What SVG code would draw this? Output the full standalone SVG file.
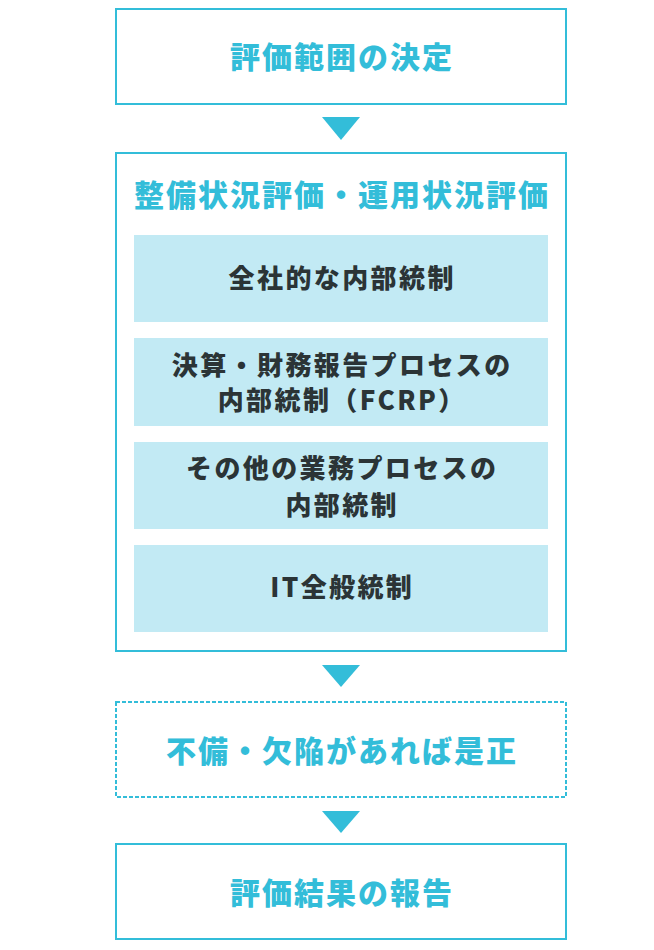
<svg xmlns="http://www.w3.org/2000/svg" width="654" height="950" viewBox="0 0 654 950">
<style>
.frame{fill:#ffffff;stroke:#33bdd9;stroke-width:2}
.dash{fill:#ffffff;stroke:#33bdd9;stroke-width:2;stroke-dasharray:4 2}
.inner{fill:#c2eaf4}
.ttl{font-family:"Noto Sans CJK JP","Noto Sans",sans-serif;font-weight:900;font-size:30px;fill:#33bdd9;letter-spacing:2px;text-anchor:middle}
.sub{font-family:"Noto Sans CJK JP","Noto Sans",sans-serif;font-weight:900;font-size:26px;fill:#2b3436;letter-spacing:2.4px;text-anchor:middle}
.arr{fill:#33bdd9}
</style>
<rect width="654" height="950" fill="#ffffff"/>
<g id="node-scope">
<rect class="frame" x="116" y="9" width="450" height="95"/>
<text class="ttl" x="342" y="68">評価範囲の決定</text>
</g>
<g id="node-eval">
<rect class="frame" x="116" y="153" width="450" height="498"/>
<text class="ttl" x="342" y="205.5">整備状況評価・運用状況評価</text>
</g>
<g id="node-company">
<rect class="inner" x="134" y="235" width="414" height="87"/>
<text class="sub" x="342.2" y="287.5">全社的な内部統制</text>
</g>
<g id="node-fcrp">
<rect class="inner" x="134" y="338" width="414" height="88"/>
<text class="sub" x="342.2" y="375">決算・財務報告プロセスの</text>
<text class="sub" x="342.2" y="410">内部統制（FCRP）</text>
</g>
<g id="node-other">
<rect class="inner" x="134" y="442" width="414" height="87"/>
<text class="sub" x="342.2" y="478">その他の業務プロセスの</text>
<text class="sub" x="342.2" y="514.5">内部統制</text>
</g>
<g id="node-it">
<rect class="inner" x="134" y="545" width="414" height="87"/>
<text class="sub" x="342.2" y="596.5">IT全般統制</text>
</g>
<g id="node-fix">
<rect class="dash" x="116" y="702" width="450" height="95"/>
<text class="ttl" x="342" y="761.5">不備・欠陥があれば是正</text>
</g>
<g id="node-report">
<rect class="frame" x="116" y="844" width="450" height="95"/>
<text class="ttl" x="342" y="904">評価結果の報告</text>
</g>
<g id="connectors">
<polygon class="arr" points="322,117 360,117 341,140"/>
<polygon class="arr" points="322,665 360,665 341,687"/>
<polygon class="arr" points="322,811 360,811 341,833"/>
</g>
</svg>
